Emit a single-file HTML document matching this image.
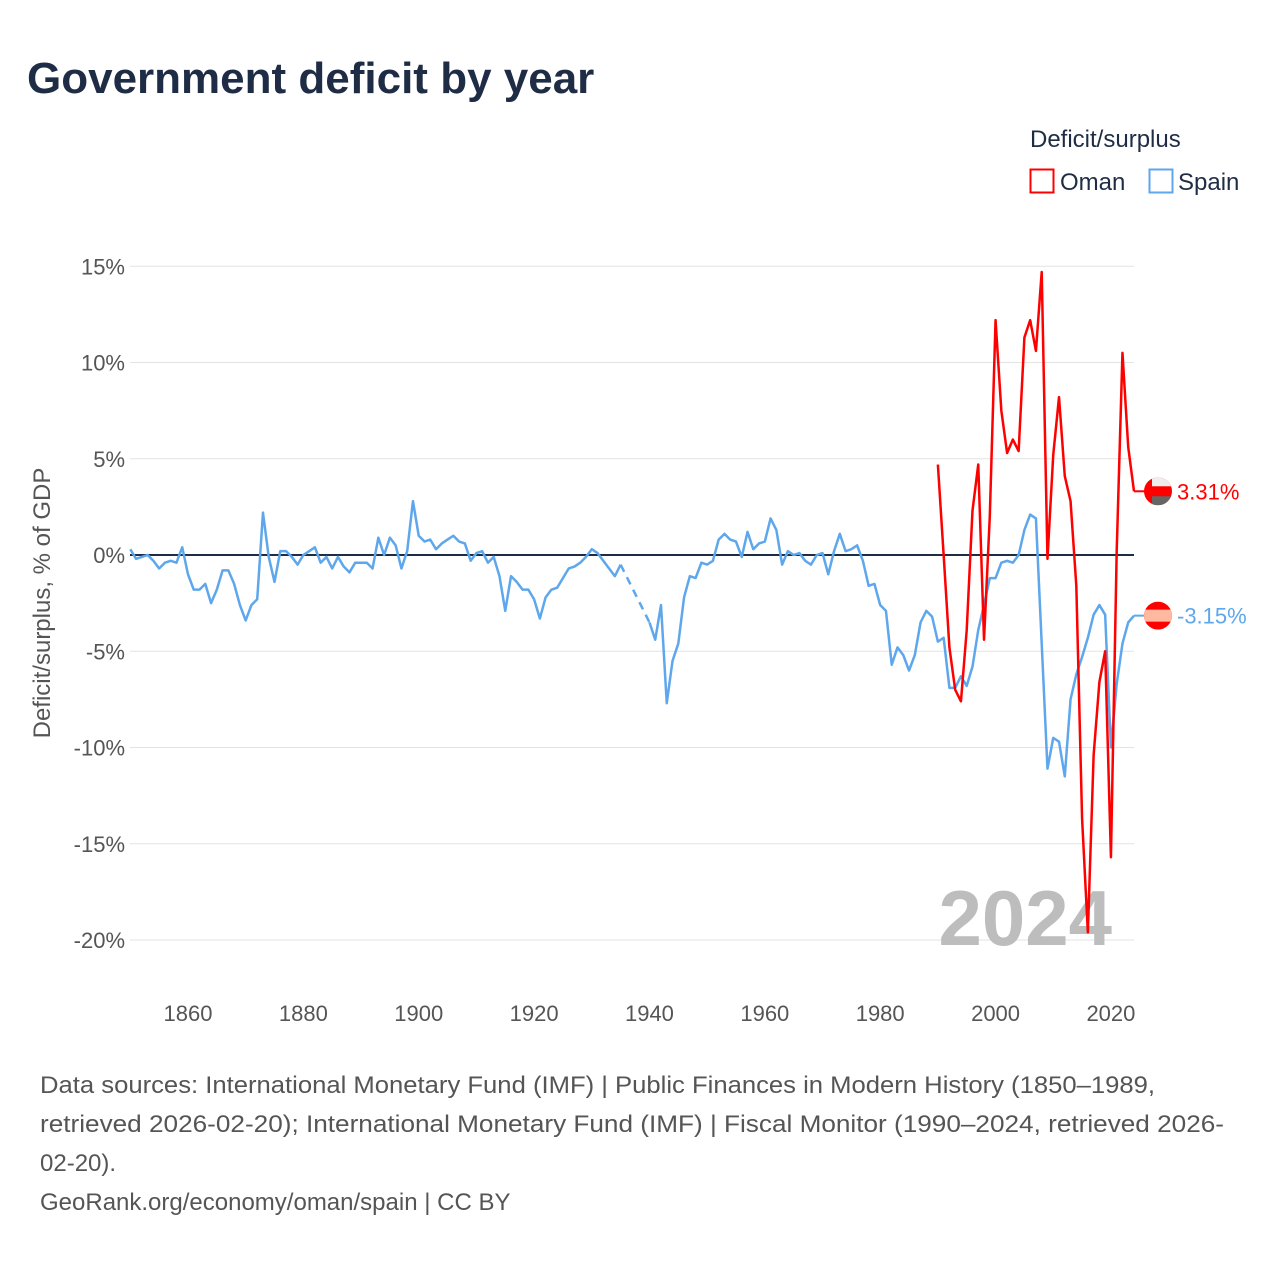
<!DOCTYPE html>
<html><head><meta charset="utf-8">
<style>
body{margin:0;background:#fff;font-family:"Liberation Sans",sans-serif;}
#wrap{position:relative;width:1280px;height:1280px;overflow:hidden;}
</style></head>
<body>
<div id="wrap">
<svg id="chart" width="1280" height="1280" xmlns="http://www.w3.org/2000/svg" style="position:absolute;left:0;top:0">
<text x="27" y="93" font-size="44" font-weight="bold" fill="#1e2d45">Government deficit by year</text>
<g>
<text x="1030" y="147" font-size="24" fill="#1e2d45">Deficit/surplus</text>
<rect x="1030.5" y="169.5" width="23" height="23" fill="none" stroke="#f00" stroke-width="2"/>
<text x="1060" y="190" font-size="24" fill="#1e2d45">Oman</text>
<rect x="1149.5" y="169.5" width="23" height="23" fill="none" stroke="#5ea7ec" stroke-width="2"/>
<text x="1178" y="190" font-size="24" fill="#1e2d45">Spain</text>
</g>
<g id="grid"></g>
<g id="yticks"></g>
<g id="xticks"></g>
<text transform="translate(50,603) rotate(-90)" text-anchor="middle" font-size="24" fill="#555">Deficit/surplus, % of GDP</text>
<text x="1112" y="945" text-anchor="end" font-size="78" font-weight="bold" fill="#bdbdbd">2024</text>
<g id="series"></g>
<g id="markers"></g>
<g font-size="24" fill="#555">
<text x="40" y="1093" textLength="1115" lengthAdjust="spacingAndGlyphs">Data sources: International Monetary Fund (IMF) | Public Finances in Modern History (1850–1989,</text>
<text x="40" y="1132" textLength="1184" lengthAdjust="spacingAndGlyphs">retrieved 2026-02-20); International Monetary Fund (IMF) | Fiscal Monitor (1990–2024, retrieved 2026-</text>
<text x="40" y="1171">02-20).</text>
<text x="40" y="1210">GeoRank.org/economy/oman/spain | CC BY</text>
</g>
</svg>
</div>
<script>
const yTicks=[15,10,5,0,-5,-10,-15,-20];
const xTicks=[1860,1880,1900,1920,1940,1960,1980,2000,2020];
const spainStart=1850;
const spainValues=[0.3,-0.2,-0.1,0,-0.3,-0.7,-0.4,-0.3,-0.4,0.4,
-1.0,-1.8,-1.8,-1.5,-2.5,-1.8,-0.8,-0.8,-1.5,-2.6,
-3.4,-2.6,-2.3,2.2,-0.1,-1.4,0.2,0.2,-0.1,-0.5,
0,0.2,0.4,-0.4,-0.1,-0.7,-0.1,-0.6,-0.9,-0.4,
-0.4,-0.4,-0.7,0.9,0,0.9,0.5,-0.7,0.2,2.8,
1.0,0.7,0.8,0.3,0.6,0.8,1.0,0.7,0.6,-0.3,
0.1,0.2,-0.4,-0.1,-1.1,-2.9,-1.1,-1.4,-1.8,-1.8,
-2.3,-3.3,-2.2,-1.8,-1.7,-1.2,-0.7,-0.6,-0.4,-0.1,
0.3,0.1,-0.3,-0.7,-1.1,-0.5,null,null,null,null,
-3.5,-4.4,-2.6,-7.7,-5.5,-4.6,-2.2,-1.1,-1.2,-0.4,
-0.5,-0.3,0.8,1.1,0.8,0.7,-0.1,1.2,0.3,0.6,
0.7,1.9,1.3,-0.5,0.2,0,0.1,-0.3,-0.5,0,
0.1,-1.0,0.2,1.1,0.2,0.3,0.5,-0.3,-1.6,-1.5,
-2.6,-2.9,-5.7,-4.8,-5.2,-6.0,-5.2,-3.5,-2.9,-3.2,
-4.5,-4.3,-6.9,-6.9,-6.3,-6.8,-5.8,-3.9,-2.6,-1.2,
-1.2,-0.4,-0.3,-0.4,0,1.3,2.1,1.9,-4.6,-11.1,
-9.5,-9.7,-11.5,-7.5,-6.2,-5.3,-4.3,-3.1,-2.6,-3.1,
-10.0,-6.7,-4.6,-3.5,-3.15];
const omanStart=1990;
const omanValues=[4.7,0,-4.8,-7.0,-7.6,-3.9,2.3,4.7,-4.4,2.0,
12.2,7.5,5.3,6.0,5.4,11.3,12.2,10.6,14.7,-0.2,
5.2,8.2,4.1,2.8,-1.6,-13.7,-19.6,-10.4,-6.6,-5.0,
-15.7,0.2,10.5,5.6,3.31];

const NS="http://www.w3.org/2000/svg";
const X0=1850,X1=2024,PX0=130.3,PX1=1134;
function xs(yr){return PX0+(yr-X0)*(PX1-PX0)/(X1-X0);}
function ys(v){return 555-v*19.25;}
function mk(tag,attrs,parent){const e=document.createElementNS(NS,tag);for(const k in attrs)e.setAttribute(k,attrs[k]);parent.appendChild(e);return e;}

const grid=document.getElementById('grid'),yt=document.getElementById('yticks'),xt=document.getElementById('xticks');
yTicks.forEach(v=>{
  const l=mk('line',{x1:130,x2:1134,y1:ys(v),y2:ys(v),stroke:v===0?'#1e2d45':'#e3e3e3','stroke-width':v===0?2:1},grid);
  
  
  const t=mk('text',{x:125,y:ys(v)+8,'text-anchor':'end','font-size':22,fill:'#555'},yt);
  t.textContent=v+'%';
  
  
});
xTicks.forEach(yr=>{
  const t=mk('text',{x:xs(yr),y:1021,'text-anchor':'middle','font-size':22,fill:'#555'},xt);
  t.textContent=yr;
  
  
});

const ser=document.getElementById('series');
function drawSeries(start,vals,color,name){
  let solid='',dashed='',prev=null,gap=false;
  vals.forEach((v,i)=>{
    if(v===null){gap=true;return;}
    const p=[xs(start+i),ys(v)];
    if(prev){
      if(gap){dashed+='M'+prev[0]+','+prev[1]+'L'+p[0]+','+p[1];solid+='M'+p[0]+','+p[1];}
      else solid+='L'+p[0]+','+p[1];
    } else solid+='M'+p[0]+','+p[1];
    prev=p;gap=false;
  });
  const a=mk('path',{d:solid,fill:'none',stroke:color,'stroke-width':2.5,'stroke-linejoin':'round'},ser);
  
  
  if(dashed){const b=mk('path',{d:dashed,fill:'none',stroke:color,'stroke-width':2.5,'stroke-dasharray':'8,6'},ser);
    
    }
  return prev;
}
const pS=drawSeries(spainStart,spainValues,'#5ea7ec','spain');
const pO=drawSeries(omanStart,omanValues,'#f00','oman');

const mg=document.getElementById('markers');
function marker(p,v,color,name,flag){
  const cy=p[1];
  const c=mk('line',{x1:p[0],x2:1146,y1:cy,y2:cy,stroke:color,'stroke-width':2},mg);
  
  
  const g=mk('g',{},mg);
  
  
  const id='clip'+name;
  const cp=mk('clipPath',{id:id},g);mk('circle',{cx:1158,cy:cy,r:14},cp);
  const f=mk('g',{'clip-path':'url(#'+id+')'},g);
  if(flag==='oman'){
    mk('rect',{x:1144,y:cy-14,width:28,height:28,fill:'#f00'},f);
    mk('rect',{x:1152,y:cy-14,width:20,height:9,fill:'#eee'},f);
    mk('rect',{x:1152,y:cy+5,width:20,height:9,fill:'#666'},f);
  } else {
    mk('rect',{x:1144,y:cy-14,width:28,height:28,fill:'#f00'},f);
    mk('rect',{x:1144,y:cy-6,width:28,height:12,fill:'#ffb9a0'},f);
  }
  const t=mk('text',{x:1177,y:cy+8,'font-size':22,fill:color},mg);
  t.textContent=v+'%';
  
  
}
marker(pO,omanValues[omanValues.length-1].toFixed(2),'#f00','oman','oman');
marker(pS,spainValues[spainValues.length-1].toFixed(2),'#5ea7ec','spain','spain');
</script>
</body></html>
